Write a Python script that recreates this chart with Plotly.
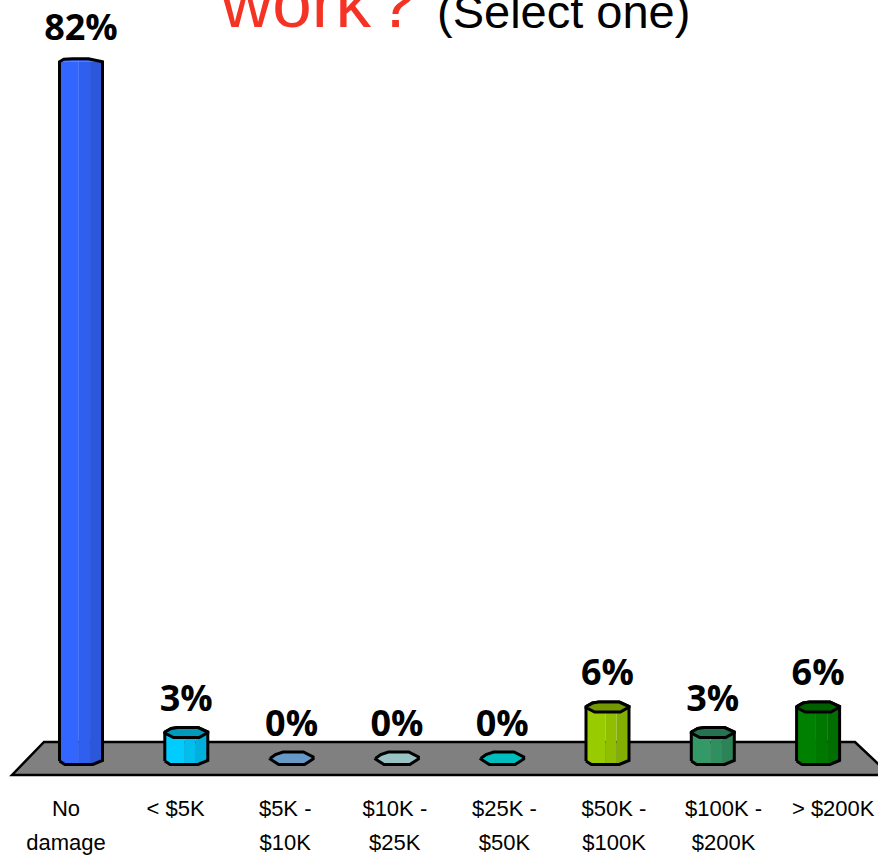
import numpy as np
import plotly.graph_objects as go

# ---- data ----
categories = ["No damage", "< $5K", "$5K - $10K", "$10K - $25K", "$25K - $50K",
              "$50K - $100K", "$100K - $200K", "> $200K"]
tick_line1 = ["No", "< $5K", "$5K -", "$10K -", "$25K -", "$50K -", "$100K -", "> $200K"]
tick_line2 = ["damage", "", "$10K", "$25K", "$50K", "$100K", "$200K", ""]
values = [82, 3, 0, 0, 0, 6, 3, 6]
value_labels = ["82%", "3%", "0%", "0%", "0%", "6%", "3%", "6%"]
body_colors = ["#3366FF", "#00CCFF", "#6699C6", "#99C2C2", "#00BDBD", "#99CC00", "#339966", "#008000"]
cap_colors = [None, "#0099BB", "#6699C6", "#99C2C2", "#00BDBD", "#739900", "#267352", "#006000"]

# ---- layout geometry (page pixels) ----
W, H = 878, 857
PX_PER_PCT = 8.49
ZERO_Y = 758
X0, DX = 81, 105.3
LX0, LDX = 66, 109.6
HALF = 21.5 / DX

def y_range():
    return [-(H - ZERO_Y) / PX_PER_PCT, ZERO_Y / PX_PER_PCT]

def x_range(x0, dx):
    return [-x0 / dx, (W - x0) / dx]

bottom_knots = ([-1, -.75, .55, 1], [3, 6.5, 6.5, 2.5])
top_knots = ([-1, -.8, -.4, .35, .6, 1], [0, 2.5, 3, 3, 1.5, 0])
cap_up = ([-1, -.7, -.4, .55, 1], [.5, 4, 5, 5, .5])
cap_lo = ([-1, -.6, .6, 1], [-.5, -5, -5, 0])
zero_up = ([-1, -.75, -.4, .55, 1], [-.5, 3.5, 6, 6, 1])
zero_lo = ([-1, -.6, .6, 1], [-1, -6.5, -6.5, -1])
bands = [(-1, -.1, 1.0), (-.1, .42, .94), (.42, 1, .86)]

def shade(hex_c, f):
    r, g, b = (int(hex_c[i:i + 2], 16) for i in (1, 3, 5))
    return f"rgb({int(r * f)},{int(g * f)},{int(b * f)})"

def pts(knots, a=-1, b=1):
    xs = [a] + [k for k in knots[0] if a < k < b] + [b]
    return np.array(xs, float), np.interp(xs, knots[0], knots[1])

fig = go.Figure()

# body bars, one trace per shade band
for a, b, f in bands:
    fig.add_trace(go.Bar(
        x=list(range(len(values))), y=values, base=0,
        width=[(b - a) * HALF] * len(values),
        offset=[a * HALF] * len(values),
        marker=dict(color=[shade(c, f) for c in body_colors], line_width=0),
        hoverinfo="skip", showlegend=False))

def poly(xs, ys, fill=None, line=None):
    fig.add_trace(go.Scatter(
        x=xs, y=ys, mode="lines", fill="toself" if fill else "none",
        fillcolor=fill, line=dict(color=line or "rgba(0,0,0,0)", width=3 if line else 0),
        hoverinfo="skip", showlegend=False))

for i, (v, c, cap) in enumerate(zip(values, body_colors, cap_colors)):
    if v == 0:
        ux, uy = pts(zero_up)
        lx, ly = pts(zero_lo)
        xs = list(i + ux * HALF) + list(i + lx[::-1] * HALF) + [i + ux[0] * HALF]
        ys = list(uy / PX_PER_PCT) + list(ly[::-1] / PX_PER_PCT) + [uy[0] / PX_PER_PCT]
        poly(xs, ys, fill=cap, line="#000000")
        continue
    # ends of the body, per band
    for a, b, f in bands:
        bx, by = pts(bottom_knots, a, b)
        xs = [i + a * HALF] + list(i + bx * HALF) + [i + b * HALF]
        ys = [0] + list(-by / PX_PER_PCT) + [0]
        poly(xs, ys, fill=shade(c, f))
        if cap is None:
            tx, ty = pts(top_knots, a, b)
            xs = [i + a * HALF] + list(i + tx * HALF) + [i + b * HALF]
            ys = [v] + list(v + ty / PX_PER_PCT) + [v]
            poly(xs, ys, fill=shade(c, f))
    # silhouette
    bx, by = pts(bottom_knots)
    if cap is None:
        tx, ty = pts(top_knots)
    else:
        tx, ty = pts(cap_up)
    xs = list(i + bx * HALF) + list(i + tx[::-1] * HALF) + [i + bx[0] * HALF]
    ys = list(-by / PX_PER_PCT) + list(v + ty[::-1] / PX_PER_PCT) + [-by[0] / PX_PER_PCT]
    poly(xs, ys, line="#000000")
    if cap is not None:
        ux, uy = pts(cap_up)
        lx, ly = pts(cap_lo)
        xs = list(i + ux * HALF) + list(i + lx[::-1] * HALF) + [i + ux[0] * HALF]
        ys = list(v + uy / PX_PER_PCT) + list(v + ly[::-1] / PX_PER_PCT) + [v + uy[0] / PX_PER_PCT]
        poly(xs, ys, fill=cap, line="#000000")

# value labels
fig.add_trace(go.Scatter(
    x=list(range(len(values))), y=[v + 31 / PX_PER_PCT for v in values],
    mode="text", text=value_labels, textposition="middle center",
    textfont=dict(family="Open Sans", size=36, color="#000000", weight="bold"),
    hoverinfo="skip", showlegend=False, cliponaxis=False))

# carriers of the two category-label axes
for ax in ("x2", "x3"):
    fig.add_trace(go.Scatter(x=list(range(len(values))), y=values, xaxis=ax, mode="none",
                             hoverinfo="skip", showlegend=False))

fx = lambda p: p / W
fy = lambda p: 1 - p / H
floor_path = "M {} {} L {} {} L {} {} L {} {} L {} {} Z".format(
    fx(12), fy(775), fx(44), fy(742), fx(855), fy(742), fx(890), fy(775), fx(12), fy(775))

def label_axis(y_px, labels):
    return dict(overlaying="x", anchor="free", position=fy(y_px), side="bottom",
                range=x_range(LX0, LDX), tickmode="array",
                tickvals=list(range(len(labels))), ticktext=labels,
                showgrid=False, zeroline=False, showline=False, ticks="",
                tickfont=dict(family="Liberation Sans", size=22, color="#000000"))

def title_note(text, x_px, y_px, size, color):
    return dict(text=text, x=fx(x_px), y=fy(y_px), xref="paper", yref="paper", xanchor="left",
                yanchor="middle", showarrow=False,
                font=dict(family="Liberation Sans", size=size, color=color))

fig.update_layout(
    width=W, height=H, margin=dict(l=0, r=0, t=0, b=0),
    paper_bgcolor="#FFFFFF", plot_bgcolor="rgba(0,0,0,0)",
    barmode="overlay", showlegend=False,
    xaxis=dict(range=x_range(X0, DX), visible=False, domain=[0, 1]),
    yaxis=dict(range=y_range(), visible=False, domain=[0, 1]),
    xaxis2=label_axis(793, tick_line1),
    xaxis3=label_axis(827, tick_line2),
    shapes=[dict(type="path", path=floor_path, xref="paper", yref="paper", layer="below",
                 fillcolor="#808080", line=dict(color="#000000", width=2.5))],
    annotations=[
        title_note("work", 218, 2, 71, "#F43324"),
        title_note("?", 375, 2, 71, "#F43324"),
        title_note("(Select one)", 435, 11, 47, "#000000"),
    ],
)
fig.write_html("out.html", config=dict(displayModeBar=False),
               post_script="document.body.style.margin='0';document.documentElement.style.overflow='hidden';")
